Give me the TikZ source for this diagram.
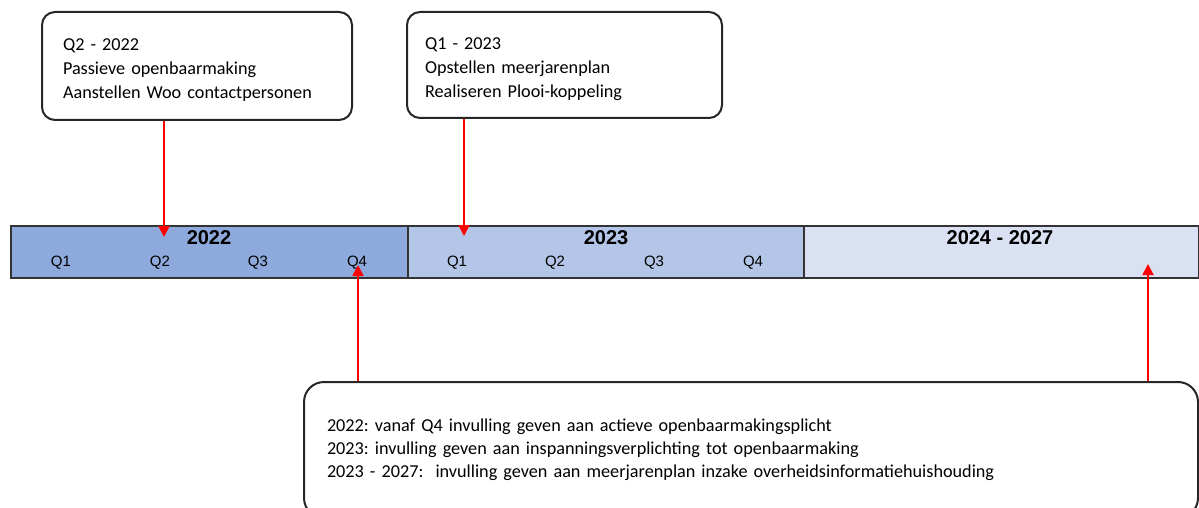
\documentclass[tikz,border=0pt]{standalone}
\usepackage{fontspec}
\setmainfont{Carlito}
\newfontfamily\arialfont{Liberation Sans}
\usetikzlibrary{arrows.meta}
\frenchspacing

\definecolor{blauwA}{HTML}{8EA9DB}
\definecolor{blauwB}{HTML}{B4C6E7}
\definecolor{blauwC}{HTML}{D9E1F2}

\tikzset{
  mijlpaal/.style={draw=black!85, line width=1pt, rounded corners=6.5pt, align=left, inner ysep=0pt, font=\fontsize{9.1}{12}\selectfont},
  jaarvak/.style={draw=black!80, line width=0.8pt, anchor=north west, inner sep=0pt, minimum height=26pt},
  jaartal/.style={font=\arialfont\bfseries\fontsize{10}{12}\selectfont, inner sep=0pt},
  kwartaal/.style={font=\arialfont\fontsize{7.5}{9}\selectfont, inner sep=0pt},
  pijl/.style={red, line width=0.9pt, -{Triangle[width=5.5pt,length=5.5pt]}}
}

\begin{document}
\begin{tikzpicture}[x=0.5pt, y=-0.5pt]

\useasboundingbox (0,0) rectangle (1199,508);
\clip (0,0) rectangle (1199,508);

% Mijlpalen boven de tijdlijn
\node[mijlpaal, text width=134pt, inner xsep=10.5pt, minimum height=54pt] (mijl2022) at (197,66)
  {\rule{0pt}{10pt}Q2 - 2022\\Passieve openbaarmaking\\Aanstellen Woo contactpersonen};
\node[mijlpaal, text width=139.5pt, inner xsep=9pt, minimum height=53pt] (mijl2023) at (564.5,65)
  {\rule{0pt}{10pt}Q1 - 2023\\Opstellen meerjarenplan\\Realiseren Plooi-koppeling};

% Tijdlijn
\node[jaarvak, fill=blauwA, minimum width=198.5pt] (vak2022) at (10,225) {};
\node[jaarvak, fill=blauwB, minimum width=198pt] (vak2023) at (407,225) {};
\node[jaarvak, fill=blauwC, minimum width=197.5pt] (vak2024) at (803,225) {};

\node[jaartal] (jaar2022) at (209,238) {2022};
\node[jaartal] (jaar2023) at (606,238) {2023};
\node[jaartal] (jaar2024) at (1000,238) {2024 - 2027};

\node[kwartaal] (q1a) at (61,263) {Q1};
\node[kwartaal] (q2a) at (160,263) {Q2};
\node[kwartaal] (q3a) at (258,263) {Q3};
\node[kwartaal] (q4a) at (357,263) {Q4};
\node[kwartaal] (q1b) at (457,263) {Q1};
\node[kwartaal] (q2b) at (555,263) {Q2};
\node[kwartaal] (q3b) at (654,263) {Q3};
\node[kwartaal] (q4b) at (753,263) {Q4};

% Samenvatting onder de tijdlijn
\node[mijlpaal, rounded corners=10pt, text width=424pt, inner xsep=11.5pt, minimum height=68pt,
  font=\fontsize{9.1}{11.5}\selectfont] (samenvatting) at (751,450)
  {2022: vanaf Q4 invulling geven aan actieve openbaarmakingsplicht\\
   2023: invulling geven aan inspanningsverplichting tot openbaarmaking\\
   2023 - 2027:\ \ invulling geven aan meerjarenplan inzake overheidsinformatiehuishouding};

% Pijlen
\coordinate (punt1) at (164,237);
\coordinate (punt2) at (464,236);
\coordinate (punt3) at (358,265);
\coordinate (punt4) at (1148,264);

\draw[pijl] (mijl2022.south -| punt1) -- (punt1);
\draw[pijl] (mijl2023.south -| punt2) -- (punt2);
\draw[pijl] (samenvatting.north -| punt3) -- (punt3);
\draw[pijl] (samenvatting.north -| punt4) -- (punt4);

\end{tikzpicture}
\end{document}
